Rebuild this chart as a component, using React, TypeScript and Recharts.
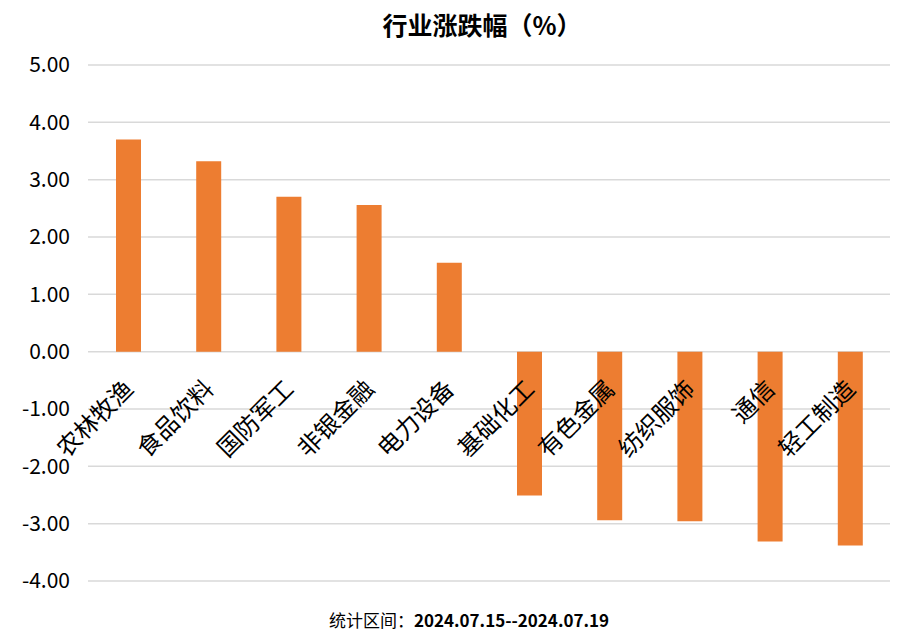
import React from 'react';
import { BarChart, Bar, XAxis, YAxis, CartesianGrid } from 'recharts';

const categories = ['农林牧渔', '食品饮料', '国防军工', '非银金融', '电力设备', '基础化工', '有色金属', '纺织服饰', '通信', '轻工制造'];
const changes = [3.7, 3.32, 2.7, 2.56, 1.55, -2.51, -2.94, -2.96, -3.31, -3.38];
const yTicks = [-4, -3, -2, -1, 0, 1, 2, 3, 4, 5];
const titleText = '行业涨跌幅（%）';
const footLabel = '统计区间：';
const footRange = '2024.07.15--2024.07.19';

const data = categories.map((name, i) => ({ name, value: changes[i] }));

const W = 912;
const H = 643;
const X_AXIS_H = 2;
const M = { top: 65, right: 22, bottom: 62 - X_AXIS_H, left: 0 };
const YAXIS_W = 88;
const Y_MIN = -4;
const Y_MAX = 5;
const PLOT_H = H - M.top - M.bottom - X_AXIS_H;
const ZERO_Y = M.top + (PLOT_H * (Y_MAX - 0)) / (Y_MAX - Y_MIN);
const FONT = '"Noto Sans CJK SC", "Noto Sans", sans-serif';

function renderCategoryTick(props: any) {
  const { x, payload, index } = props;
  return (
    <g key={`cat-${index}`} transform={`translate(${x - 9},${ZERO_Y + 23})`}>
      <text
        transform="rotate(-45)"
        textAnchor="end"
        dominantBaseline="hanging"
        fontSize={24}
        fill="#000"
        fontFamily={FONT}
      >
        {payload.value}
      </text>
    </g>
  );
}

export default function App() {
  return (
    <div style={{ position: 'absolute', left: 0, top: 0, width: W, height: H, background: '#fff', fontFamily: FONT }}>
      <div
        style={{
          position: 'absolute',
          left: 0,
          width: 964,
          top: 6,
          textAlign: 'center',
          fontSize: 25,
          fontWeight: 'bold',
          lineHeight: '36px',
          color: '#000',
        }}
      >
        {titleText}
      </div>
      <BarChart width={W} height={H} data={data} margin={M}>
        <CartesianGrid vertical={false} stroke="#d9d9d9" strokeWidth={1.5} />
        <XAxis
          dataKey="name"
          axisLine={false}
          tickLine={false}
          interval={0}
          height={X_AXIS_H}
          tick={renderCategoryTick}
        />
        <YAxis
          width={YAXIS_W}
          domain={[Y_MIN, Y_MAX]}
          ticks={yTicks}
          interval={0}
          axisLine={false}
          tickLine={false}
          tickMargin={12}
          tickFormatter={(v: number) => v.toFixed(2)}
          tick={{ fontSize: 21, fill: '#000', fontFamily: FONT }}
        />
        <Bar dataKey="value" fill="#ed7d31" barSize={25} isAnimationActive={false} />
      </BarChart>
      <div
        style={{
          position: 'absolute',
          left: 0,
          width: 938,
          top: 606,
          textAlign: 'center',
          fontSize: 17,
          lineHeight: '28px',
          color: '#000',
        }}
      >
        <span>{footLabel}</span>
        <span style={{ fontWeight: 'bold' }}>{footRange}</span>
      </div>
    </div>
  );
}
